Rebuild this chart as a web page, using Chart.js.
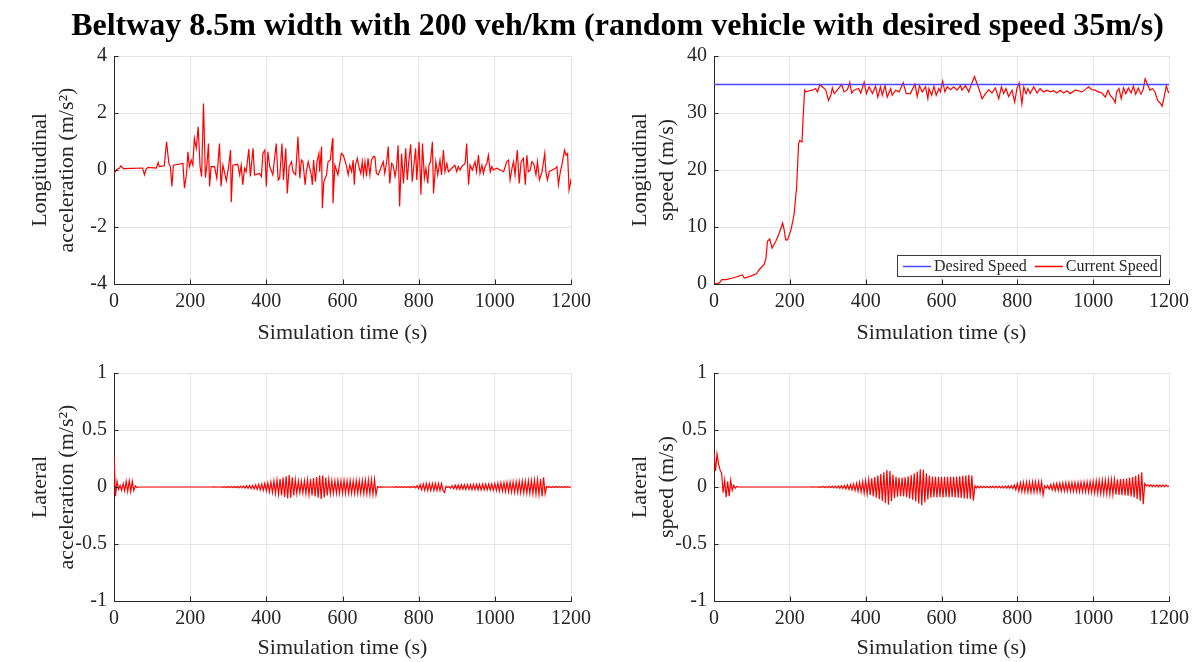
<!DOCTYPE html>
<html>
<head>
<meta charset="utf-8">
<script src="https://cdn.jsdelivr.net/npm/chart.js@4.4.1/dist/chart.umd.min.js"></script>
<style>
  body { margin: 0; background: #fff; }
  #wrap { position: relative; width: 1195px; height: 662px; overflow: hidden; }
  canvas { position: absolute; }
  #title { position: absolute; left: 0; top: 6px; width: 1195px; text-align: center; line-height: 36px;
           font: bold 32px 'Liberation Serif', 'Times New Roman', serif; color: #000; white-space: nowrap; }
  #title span { display: inline-block; position: relative; left: 20px; }
</style>
</head>
<body>
<div id="wrap">
  <canvas id="accLongChart" width="597" height="350" style="left:0;top:0"></canvas>
  <canvas id="spdLongChart" width="595" height="350" style="left:600px;top:0"></canvas>
  <canvas id="accLatChart" width="597" height="331" style="left:0;top:331px"></canvas>
  <canvas id="spdLatChart" width="595" height="331" style="left:600px;top:331px"></canvas>
  <div id="title"><span>Beltway 8.5m width with 200 veh/km (random vehicle with desired speed 35m/s)</span></div>
</div>
<script>
// ---- data ----
const timeTicks = [0, 200, 400, 600, 800, 1000, 1200];
const accTicks = [-4, -2, 0, 2, 4];
const spdTicks = [0, 10, 20, 30, 40];
const latTicks = [-1, -0.5, 0, 0.5, 1];

// longitudinal acceleration (m/s^2)
const accTime = [0,7,14,18,25,49,75,80,84,89,
  111,116,119,132,138,144,148,152,156,181,
  185,191,194,198,203,207,211,216,221,226,
  230,235,240,244,248,251,255,264,270,277,
  281,286,295,301,306,308,312,325,330,334,
  338,343,347,354,358,365,369,382,387,391,
  396,400,404,409,417,426,431,435,441,445,
  451,455,460,466,470,477,483,488,492,496,
  502,505,510,518,521,524,529,533,538,540,
  545,547,551,558,562,568,574,575,580,588,
  597,602,610,615,619,624,628,631,634,639,
  643,648,652,655,659,663,667,672,676,681,
  685,689,694,702,707,711,716,720,724,729,
  733,738,742,746,750,755,760,766,770,774,
  779,783,788,792,795,801,806,810,815,819,
  824,827,831,836,839,845,850,856,860,865,
  869,874,878,887,895,900,904,909,913,922,
  926,931,935,941,948,952,957,961,966,970,
  974,979,983,988,992,996,1005,1014,1023,1031,
  1036,1040,1045,1049,1053,1059,1064,1069,1075,1080,
  1084,1088,1093,1097,1102,1108,1112,1117,1124,1131,
  1134,1138,1143,1150,1159,1163,1167,1172,1176,1183,
  1187,1191,1195,1199,1200];
const accLong = [-0.12,0.02,0.06,0.14,0.05,0.06,0.07,-0.17,0.02,0.09,
  0.07,0.26,0.12,0.15,0.99,0.23,0.12,-0.58,0.17,0.23,
  -0.64,-0.06,0.64,0.12,0.35,0.17,1.11,0.76,1.52,0.12,
  -0.23,2.33,-0.27,0.17,0.93,-0.58,0.12,0.12,-0.29,0.93,
  -0.58,0.17,-0.38,0.12,0.7,-1.13,0.17,0.2,-0.17,0.17,
  -0.52,0.06,-0.06,0.73,-0.23,0.76,-0.17,-0.12,-0.23,0.58,
  0.7,-0.58,0.64,0.12,-0.17,0.93,-0.35,-0.29,0.93,-0.35,
  0.76,-0.82,0.12,0.29,-0.06,-0.17,1.17,-0.29,0.35,0.29,
  -0.52,-0.06,0.29,-0.17,-0.52,0.35,-0.41,0.29,0.58,-0.06,
  0.82,-1.34,-0.41,-0.17,0.29,0.35,1.11,-1.17,0.17,-0.17,
  0.58,0.52,0.17,-0.17,0.17,-0.06,0.35,-0.52,0.17,0.41,
  0.12,-0.12,0.29,-0.17,0.29,-0.23,0.41,-0.17,0.35,0.47,
  0.47,-0.12,-0.17,0.12,0.29,-0.12,0.29,0.82,-0.47,0.23,
  0.17,-0.23,0.12,0.87,-1.28,0.58,-0.47,0.76,-0.35,0.29,
  0.9,-0.41,0.23,0.76,-0.35,0.99,-0.87,0.93,-0.29,0.06,
  -0.47,0.17,0.29,0.99,-0.82,0.29,-0.17,0.35,-0.17,0.7,
  -0.06,0.23,-0.06,0.06,0.17,-0.06,0.12,0,0.12,0.23,
  0.93,-0.52,0.17,0,0.29,-0.06,0.52,-0.12,0.17,-0.12,
  0.12,0.23,0.52,-0.06,0.12,0,0.06,0,-0.06,0.29,
  0.35,-0.35,0.06,0.29,-0.17,0.7,-0.47,0.29,0.41,-0.52,
  0.52,-0.06,0,0.29,0.23,-0.17,0.29,-0.35,-0.06,0.58,
  -0.06,-0.35,-0.06,0,0.06,0.12,-0.52,-0.06,0.17,0.7,
  0.52,0.58,-0.7,-0.41,-0.3];

// longitudinal speed (m/s)
const spdTime = [0,14,21,32,49,75,80,93,112,119, 132,137,141,147,153,163,172,181,185,189,
  194,203,211,218,223,226,232,235,239,242, 251,260,268,273,279,286,295,302,308,312,
  317,325,337,343,352,358,363,369,381,387, 396,402,409,418,426,432,439,444,451,457,
  466,470,479,488,499,507,518,530,536,542, 549,558,564,
  567,574,580,586,593,597,603,609,615,624, 632,641,650,654,663,672,679,687,694,700,
  707,716,725,733,742,751,758,764,770,777, 786,793,799,805,812,817,823,828,834,843,
  852,860,869,878,887,896,904,913,922,931, 939,953,961,970,979,988,996,1005,1014,1023,
  1032,1039,1045,1053,1058,1062,1068,1074,1080,1086, 1093,1100,1106,1112,1119,1126,1132,1137,1143,1150,
  1156,1163,1170,1176,1182,1188,1193,1198,1200];
const spdCurrent = [0,0.2,0.76,0.76,1.05,1.6,1.05,1.3,1.8,2.5, 3.4,4.5,7.5,7.9,6.3,7.5,8.9,10.7,9.5,7.75,
  7.75,9.5,12.1,17.1,24.6,25.2,24.9,29.3,34.0,33.7, 33.9,34.0,34.3,33.7,35.0,34.6,34.0,32.2,33.1,34.4,
  33.4,34.0,35.0,33.7,34.1,35.4,33.5,34.0,34.3,33.5, 35.4,33.4,34.6,33.4,34.7,32.8,34.6,33.1,34.8,32.8,
  34.3,33.1,34.0,33.7,35.3,33.4,33.4,35.1,32.9,34.8, 33.7,34.6,32.5,
  34.3,33.1,34.7,33.1,34.3,33.7,35.6,33.7,34.6,34.1, 34.6,34.0,34.8,34.0,34.8,33.7,35.1,36.4,35.1,34.0,
  32.5,33.4,34.1,33.5,34.4,32.5,34.6,33.4,34.3,32.9, 34.0,31.9,34.3,35.3,31.6,34.6,33.4,34.3,33.4,34.6,
  33.5,34.3,33.7,34.0,33.7,33.9,33.5,34.0,33.5,33.9, 33.4,34.0,33.9,33.7,34.1,34.6,34.1,34.0,33.7,33.5,
  32.8,34.0,33.1,32.5,31.8,33.7,34.3,32.5,34.4,33.4, 34.4,33.5,34.7,33.3,34.4,33.3,34.1,36.0,35.1,34.0,
  34.3,33.7,32.2,31.8,31.2,33.1,34.8,33.7,33.5];
const desiredTime = [0, 1200];
const desiredSpeed = [35, 35];

// lateral signals, one sample every 4 s from 0 to 1200 s
const latStep = 4;
const latAcc = [
  0.27,-0.08,0.05,-0.02,0.015,-0.03,0.03,-0.035,0.05,-0.04,
  0.055,-0.04,0.05,-0.03,0.01,-0.005,0,0,0,0,
  0,0,0,0,0,0,0,0,0,0,
  0,0,0,0,0,0,0,0,0,0,
  0,0,0,0,0,0,0,0,0,0,
  0,0,0,0,0,0,0,0,0,0,
  0,0,0,0,0,0.001,-0.001,0.002,-0.002,0.002,
  -0.002,0.003,-0.003,0.003,-0.004,0.004,-0.004,0.005,-0.005,0.005,
  -0.006,0.006,-0.007,0.007,-0.008,0.009,-0.01,0.011,-0.012,0.013,
  -0.014,0.015,-0.017,0.019,-0.021,0.023,-0.025,0.027,-0.029,0.031,
  -0.034,0.037,-0.041,0.044,-0.048,0.052,-0.056,0.06,-0.065,0.07,
  -0.075,0.082,-0.088,0.095,-0.1,0.105,-0.095,0.085,-0.075,0.065,
  -0.058,0.052,-0.05,0.05,-0.052,0.055,-0.058,0.062,-0.066,0.07,
  -0.074,0.078,-0.083,0.088,-0.094,0.1,-0.104,0.1,-0.092,0.082,
  -0.074,0.066,-0.06,0.056,-0.055,0.054,-0.055,0.056,-0.055,0.054,
  -0.055,0.056,-0.055,0.054,-0.055,0.056,-0.055,0.054,-0.056,0.057,
  -0.056,0.055,-0.056,0.057,-0.058,0.06,-0.06,0.062,-0.063,0.064,
  -0.065,0.066,-0.068,0.004,-0.003,0.003,-0.003,0.002,-0.002,0.002,
  -0.002,0.002,-0.002,0.002,-0.003,0.003,-0.003,0.003,-0.003,0.003,
  -0.003,0.003,-0.004,0.004,-0.004,0.004,-0.005,0.006,-0.008,0.012,
  -0.016,0.02,-0.024,0.027,-0.03,0.03,-0.03,0.031,-0.03,0.03,
  -0.031,0.03,-0.03,0.031,-0.03,0.03,-0.032,-0.048,0.006,-0.004,
  0.004,-0.01,0.013,-0.015,0.016,-0.018,0.018,-0.02,0.02,-0.02,
  0.021,-0.021,0.022,-0.022,0.022,-0.023,0.023,-0.023,0.024,-0.024,
  0.024,-0.025,0.025,-0.025,0.026,-0.026,0.026,-0.027,0.027,-0.028,
  0.03,-0.032,0.034,-0.035,0.036,-0.037,0.038,-0.04,0.041,-0.042,
  0.043,-0.044,0.045,-0.046,0.047,-0.048,0.049,-0.05,0.051,-0.052,
  0.053,-0.054,0.055,-0.056,0.057,-0.058,0.06,-0.062,0.064,-0.066,
  0.07,-0.083,0.085,-0.06,0.005,-0.004,0.004,-0.004,0.004,-0.004,
  0.004,-0.004,0.004,-0.004,0.004,-0.004,0.004,-0.004,0.004,-0.004,
  0.003];
const latSpd = [
  0.3,0.14,0.29,0.2,0.15,0.12,-0.05,0.06,-0.09,0.05,
  -0.08,0.06,-0.03,0.015,-0.01,0.005,0,0,0,0,
  0,0,0,0,0,0,0,0,0,0,
  0,0,0,0,0,0,0,0,0,0,
  0,0,0,0,0,0,0,0,0,0,
  0,0,0,0,0,0,0,0,0,0,
  0,0,0,0,0.001,-0.001,0.002,-0.002,0.002,-0.003,
  0.003,-0.003,0.004,-0.004,0.005,-0.005,0.006,-0.006,0.007,-0.007,
  0.008,-0.009,0.01,-0.011,0.012,-0.013,0.014,-0.016,0.018,-0.02,
  0.022,-0.024,0.027,-0.03,0.033,-0.036,0.04,-0.044,0.048,-0.052,
  0.056,-0.06,0.065,-0.07,0.076,-0.082,0.088,-0.094,0.1,-0.107,
  0.114,-0.122,0.13,-0.14,0.148,-0.155,0.14,-0.125,0.11,-0.098,
  0.09,-0.085,0.082,-0.08,0.08,-0.082,0.085,-0.09,0.095,-0.1,
  0.106,-0.112,0.12,-0.128,0.136,-0.145,0.155,-0.16,0.15,-0.135,
  0.12,-0.11,0.1,-0.095,0.092,-0.09,0.09,-0.092,0.09,-0.088,
  0.09,-0.092,0.09,-0.088,0.09,-0.092,0.09,-0.088,0.09,-0.092,
  0.092,-0.094,0.095,-0.096,0.098,-0.1,0.1,-0.102,0.104,-0.106,
  0.1,-0.12,0.01,-0.008,0.008,-0.007,0.007,-0.006,0.006,-0.006,
  0.006,-0.006,0.006,-0.006,0.007,-0.007,0.007,-0.007,0.008,-0.008,
  0.008,-0.009,0.009,-0.01,0.01,-0.011,0.012,-0.014,0.018,-0.024,
  0.03,-0.035,0.038,-0.04,0.042,-0.043,0.043,-0.044,0.044,-0.045,
  0.045,-0.045,0.046,-0.045,0.046,-0.046,0.045,-0.07,0.01,-0.01,
  0.012,-0.018,0.022,-0.026,0.028,-0.03,0.032,-0.033,0.034,-0.035,
  0.035,-0.036,0.036,-0.037,0.037,-0.038,0.038,-0.039,0.039,-0.04,
  0.04,-0.041,0.041,-0.042,0.042,-0.043,0.044,-0.045,0.046,-0.048,
  0.05,-0.052,0.054,-0.055,0.056,-0.057,0.058,-0.059,0.06,-0.061,
  0.062,-0.063,0.064,-0.065,0.066,-0.067,0.068,-0.069,0.07,-0.071,
  0.072,-0.073,0.075,-0.077,0.08,-0.083,0.087,-0.092,0.098,-0.105,
  0.112,-0.12,0.13,-0.15,0.03,0.01,0.02,0.005,0.018,0.004,
  0.016,0.003,0.018,0.002,0.016,0.004,0.018,0.003,0.016,0.005,
  0.01];
const latTime = latAcc.map((_, i) => i * latStep);

// ---- styling ----
const serif = "'Liberation Serif', 'Times New Roman', serif";
const textColor = '#262626';
const axisColor = '#262626';
const gridColor = '#e4e4e4';
const red = '#ff0000';
const blue = '#4848ff';

const pairs = (xs, ys) => xs.map((x, i) => ({ x: x, y: ys[i] }));

// MATLAB style short ticks pointing into the plot
const inwardTicks = {
  id: 'inwardTicks',
  afterDatasetsDraw(chart) {
    const { ctx, chartArea: a, scales: { x, y } } = chart;
    ctx.save();
    ctx.strokeStyle = axisColor;
    ctx.lineWidth = 1;
    ctx.beginPath();
    x.ticks.forEach(t => {
      const px = Math.round(x.getPixelForValue(t.value)) + 0.5;
      ctx.moveTo(px, a.bottom);
      ctx.lineTo(px, a.bottom - 4.5);
    });
    y.ticks.forEach(t => {
      const py = Math.round(y.getPixelForValue(t.value)) + 0.5;
      ctx.moveTo(a.left, py);
      ctx.lineTo(a.left + 4.5, py);
    });
    ctx.stroke();
    ctx.restore();
  }
};

// boxed legend in the lower right corner of the plot
const boxLegend = {
  id: 'boxLegend',
  afterDraw(chart) {
    const { ctx, chartArea: a } = chart;
    const w = 263, h = 21;
    const left = Math.round(a.right - 9 - w), top = Math.round(a.bottom - 8 - h);
    ctx.save();
    ctx.fillStyle = '#fff';
    ctx.fillRect(left, top, w, h);
    ctx.strokeStyle = '#3a3a3a';
    ctx.lineWidth = 1;
    ctx.strokeRect(left + 0.5, top + 0.5, w, h);
    ctx.font = '16px ' + serif;
    ctx.textBaseline = 'middle';
    let cx = left + 6;
    const cy = top + h / 2 + 1;
    chart.data.datasets.forEach(ds => {
      ctx.strokeStyle = ds.borderColor;
      ctx.lineWidth = 1.5;
      ctx.beginPath();
      ctx.moveTo(cx, cy);
      ctx.lineTo(cx + 28, cy);
      ctx.stroke();
      cx += 31;
      ctx.fillStyle = textColor;
      ctx.fillText(ds.label, cx, cy);
      cx += ctx.measureText(ds.label).width + 8;
    });
    ctx.restore();
  }
};

function makeChart(id, datasets, yTicks, yTitle, box, extra) {
  return new Chart(document.getElementById(id), {
    type: 'line',
    data: { datasets: datasets },
    options: {
      responsive: false,
      animation: false,
      events: [],
      layout: { padding: { left: 0, top: box.top, right: box.right, bottom: 0 } },
      plugins: { legend: { display: false }, tooltip: { enabled: false } },
      elements: { point: { radius: 0 }, line: { borderWidth: 1.2, tension: 0 } },
      scales: {
        x: {
          type: 'linear',
          min: timeTicks[0],
          max: timeTicks[timeTicks.length - 1],
          afterBuildTicks: s => { s.ticks = timeTicks.map(v => ({ value: v })); },
          afterFit: s => { s.height = box.xh; },
          grid: { color: gridColor, drawTicks: false },
          border: { color: axisColor },
          ticks: { color: textColor, font: { family: serif, size: 20 }, padding: 6, maxRotation: 0,
                   callback: v => String(v) },
          title: { display: true, text: 'Simulation time (s)', color: textColor,
                   font: { family: serif, size: 22, lineHeight: 1.0 }, padding: { top: 0, bottom: box.xtp } }
        },
        y: {
          type: 'linear',
          min: yTicks[0],
          max: yTicks[yTicks.length - 1],
          afterBuildTicks: s => { s.ticks = yTicks.map(v => ({ value: v })); },
          afterFit: s => { s.width = 114; },
          grid: { color: gridColor, drawTicks: false },
          border: { color: axisColor },
          ticks: { color: textColor, font: { family: serif, size: 20 }, padding: 7,
                   callback: v => String(v) },
          title: { display: true, text: yTitle, color: textColor,
                   font: { family: serif, size: 22, lineHeight: 1.25 }, padding: { top: 26, bottom: 0 } }
        }
      }
    },
    plugins: [inwardTicks].concat(extra || [])
  });
}

const topBox = { top: 56, xh: 66, xtp: 6 };
const botBox = { top: 42, xh: 61, xtp: 3 };

makeChart('accLongChart',
  [{ label: 'Acceleration', data: pairs(accTime, accLong), borderColor: red }],
  accTicks, ['Longitudinal', 'acceleration (m/s²)'], Object.assign({ right: 26 }, topBox));

makeChart('spdLongChart',
  [{ label: 'Desired Speed', data: pairs(desiredTime, desiredSpeed), borderColor: blue, borderWidth: 1.5 },
   { label: 'Current Speed', data: pairs(spdTime, spdCurrent), borderColor: red }],
  spdTicks, ['Longitudinal', 'speed (m/s)'], Object.assign({ right: 24 }, topBox), [boxLegend]);

makeChart('accLatChart',
  [{ label: 'Lateral acceleration', data: pairs(latTime, latAcc), borderColor: red }],
  latTicks, ['Lateral', 'acceleration (m/s²)'], Object.assign({ right: 26 }, botBox));

makeChart('spdLatChart',
  [{ label: 'Lateral speed', data: pairs(latTime, latSpd), borderColor: red }],
  latTicks, ['Lateral', 'speed (m/s)'], Object.assign({ right: 24 }, botBox));
</script>
</body>
</html>
